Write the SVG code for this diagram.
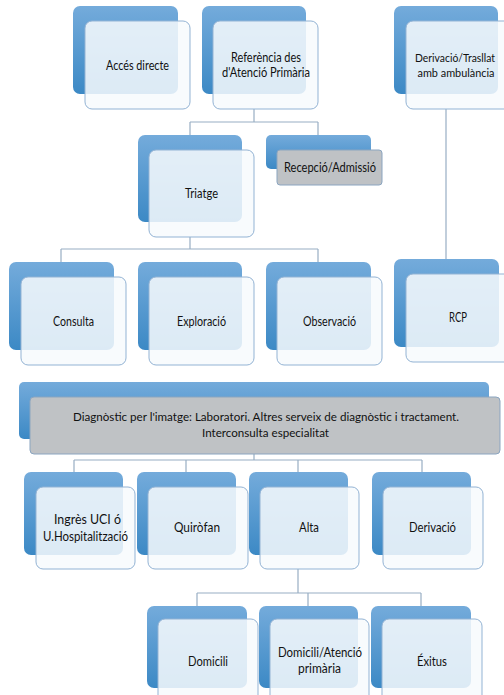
<svg xmlns="http://www.w3.org/2000/svg" width="504" height="695" viewBox="0 0 504 695">
  <defs>
    <linearGradient id="blueFill" x1="0" y1="0" x2="0" y2="1">
      <stop offset="0" stop-color="#74abdb"/>
      <stop offset="1" stop-color="#3c89c5"/>
    </linearGradient>
    <style>
      .back { fill: url(#blueFill); }
      .front { fill: #f7fafd; fill-opacity: 0.86; stroke: #93b3d4; stroke-width: 1; }
      .grey { fill: #bfc2c5; stroke: #8ba5c0; stroke-width: 1; }
      .conn { fill: none; stroke: #98aec4; stroke-width: 1.2; }
      text { font-family: "Lato", "Open Sans", "Liberation Sans", sans-serif; font-size: 13.5px; fill: #111111; text-anchor: middle; }
      text.tight { font-size: 12px; }
    </style>
  </defs>
  <rect width="504" height="695" fill="#ffffff"/>

  <!-- connectors -->
  <g id="connectors">
    <path class="conn" d="M254 109 V122 M190 122 H318 M190 122 V135 M318 122 V135"/>
    <path class="conn" d="M190 237 V249 M61 249 H318 M61 249 V262 M318 249 V262"/>
    <path class="conn" d="M446 109 V259"/>
    <path class="conn" d="M254 454 V460 M74 460 H422 M74 460 V472 M186 460 V472 M298 460 V472 M422 460 V472"/>
    <path class="conn" d="M298 569 V593 M197 593 H421 M197 593 V606 M308 593 V606 M421 593 V606"/>
  </g>

  <g id="acces-directe">
    <rect class="back" x="73" y="6" width="105" height="88" rx="7"/>
    <rect class="front" x="85" y="21" width="105" height="88" rx="7"/>
    <text x="137.5" y="70" textLength="63" lengthAdjust="spacingAndGlyphs">Accés directe</text>
  </g>

  <g id="referencia">
    <rect class="back" x="202" y="6" width="104" height="88" rx="7"/>
    <rect class="front" x="213" y="21" width="105" height="88" rx="7"/>
    <text x="266" y="62" textLength="70" lengthAdjust="spacingAndGlyphs">Referència des</text>
    <text x="266" y="77" textLength="88" lengthAdjust="spacingAndGlyphs">d'Atenció Primària</text>
  </g>

  <g id="derivacio-trasllat">
    <rect class="back" x="394" y="6" width="104" height="88" rx="7"/>
    <rect class="front" x="406" y="21" width="105" height="88" rx="7"/>
    <text class="tight" x="455" y="62" textLength="80" lengthAdjust="spacingAndGlyphs">Derivació/Trasllat</text>
    <text class="tight" x="456" y="77" textLength="77" lengthAdjust="spacingAndGlyphs">amb ambulància</text>
  </g>

  <g id="triatge">
    <rect class="back" x="138" y="135" width="104" height="87" rx="7"/>
    <rect class="front" x="149" y="150" width="105" height="87" rx="7"/>
    <text x="201.5" y="198" textLength="33" lengthAdjust="spacingAndGlyphs">Triatge</text>
  </g>

  <g id="recepcio">
    <rect class="back" x="266" y="135" width="105" height="34" rx="5"/>
    <rect class="grey" x="277" y="150" width="105" height="35" rx="3"/>
    <text x="330" y="172" textLength="92" lengthAdjust="spacingAndGlyphs">Recepció/Admissió</text>
  </g>

  <g id="consulta">
    <rect class="back" x="9" y="262" width="105" height="88" rx="7"/>
    <rect class="front" x="21" y="277" width="105" height="88" rx="7"/>
    <text x="73.5" y="326" textLength="41" lengthAdjust="spacingAndGlyphs">Consulta</text>
  </g>

  <g id="exploracio">
    <rect class="back" x="138" y="262" width="104" height="88" rx="7"/>
    <rect class="front" x="149" y="277" width="105" height="88" rx="7"/>
    <text x="201.5" y="326" textLength="49" lengthAdjust="spacingAndGlyphs">Exploració</text>
  </g>

  <g id="observacio">
    <rect class="back" x="266" y="262" width="105" height="88" rx="7"/>
    <rect class="front" x="277" y="277" width="105" height="88" rx="7"/>
    <text x="329.5" y="326" textLength="53" lengthAdjust="spacingAndGlyphs">Observació</text>
  </g>

  <g id="rcp">
    <rect class="back" x="394" y="259" width="105" height="88" rx="7"/>
    <rect class="front" x="406" y="274" width="105" height="88" rx="7"/>
    <text x="458" y="322" textLength="18" lengthAdjust="spacingAndGlyphs">RCP</text>
  </g>

  <g id="diagnostic">
    <rect class="back" x="19" y="382" width="470" height="57" rx="5"/>
    <rect class="grey" x="30" y="397" width="470" height="57" rx="4"/>
    <text class="tight" x="266" y="421" textLength="386" lengthAdjust="spacingAndGlyphs">Diagnòstic per l'imatge: Laboratori. Altres serveix de diagnòstic i tractament.</text>
    <text class="tight" x="265.5" y="437" textLength="127" lengthAdjust="spacingAndGlyphs">Interconsulta especialitat</text>
  </g>

  <g id="ingres">
    <rect class="back" x="24" y="472" width="99" height="83" rx="7"/>
    <rect class="front" x="36" y="487" width="99" height="82" rx="7"/>
    <text x="87.5" y="524" textLength="67" lengthAdjust="spacingAndGlyphs">Ingrès UCI ó</text>
    <text x="85.5" y="541" textLength="85" lengthAdjust="spacingAndGlyphs">U.Hospitalització</text>
  </g>

  <g id="quirofan">
    <rect class="back" x="137" y="472" width="99" height="83" rx="7"/>
    <rect class="front" x="148" y="487" width="100" height="82" rx="7"/>
    <text x="197" y="532" textLength="46" lengthAdjust="spacingAndGlyphs">Quiròfan</text>
  </g>

  <g id="alta">
    <rect class="back" x="249" y="472" width="99" height="83" rx="7"/>
    <rect class="front" x="260" y="487" width="99" height="82" rx="7"/>
    <text x="309" y="532" textLength="20" lengthAdjust="spacingAndGlyphs">Alta</text>
  </g>

  <g id="derivacio">
    <rect class="back" x="372" y="472" width="99" height="83" rx="7"/>
    <rect class="front" x="383" y="487" width="100" height="82" rx="7"/>
    <text x="432.5" y="532" textLength="47" lengthAdjust="spacingAndGlyphs">Derivació</text>
  </g>

  <g id="domicili">
    <rect class="back" x="147" y="606" width="100" height="82" rx="7"/>
    <rect class="front" x="158" y="619" width="100" height="90" rx="7"/>
    <text x="208" y="666" textLength="40" lengthAdjust="spacingAndGlyphs">Domicili</text>
  </g>

  <g id="domicili-atencio">
    <rect class="back" x="259" y="606" width="99" height="82" rx="7"/>
    <rect class="front" x="270" y="619" width="99" height="90" rx="7"/>
    <text x="320" y="657" textLength="84" lengthAdjust="spacingAndGlyphs">Domicili/Atenció</text>
    <text x="319.5" y="673" textLength="43" lengthAdjust="spacingAndGlyphs">primària</text>
  </g>

  <g id="exitus">
    <rect class="back" x="371" y="606" width="100" height="82" rx="7"/>
    <rect class="front" x="382" y="619" width="100" height="90" rx="7"/>
    <text x="432" y="666" textLength="30" lengthAdjust="spacingAndGlyphs">Éxitus</text>
  </g>
</svg>
